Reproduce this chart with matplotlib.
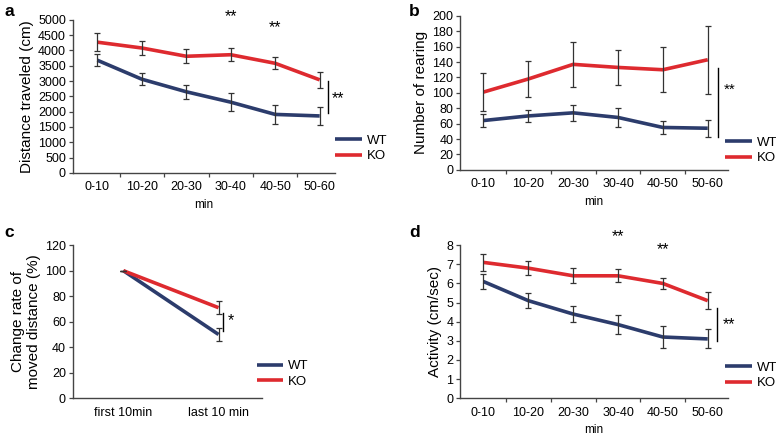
import numpy as np
import matplotlib
matplotlib.use("Agg")
import matplotlib.pyplot as plt

plt.rcParams['font.family'] = ['Liberation Sans', 'DejaVu Sans']

WT_COL = '#2c3c6c'
KO_COL = '#de2a2f'

# panel a - distance traveled
bins = ['0-10', '10-20', '20-30', '30-40', '40-50', '50-60']
dist_wt = [3680, 3060, 2650, 2310, 1910, 1860]
dist_wt_err = [200, 200, 230, 290, 300, 290]
dist_ko = [4270, 4080, 3810, 3860, 3580, 3040]
dist_ko_err = [300, 230, 230, 210, 200, 260]

# panel b - rearing
rear_wt = [64, 70, 74, 68, 55, 54]
rear_wt_err = [8, 8, 10, 12, 9, 11]
rear_ko = [101, 118, 137, 133, 130, 143]
rear_ko_err = [25, 24, 29, 23, 29, 44]

# panel c - change rate
periods = ['first 10min', 'last 10 min']
rate_wt = [100, 50]
rate_wt_err = [0, 5]
rate_ko = [100, 71]
rate_ko_err = [0, 5]

# panel d - activity
act_wt = [6.1, 5.1, 4.4, 3.85, 3.2, 3.1]
act_wt_err = [0.4, 0.4, 0.4, 0.5, 0.55, 0.5]
act_ko = [7.1, 6.8, 6.4, 6.4, 6.0, 5.1]
act_ko_err = [0.45, 0.35, 0.4, 0.35, 0.3, 0.45]

fig = plt.figure(figsize=(7.76, 4.41), dpi=100)


def panel(rect, labels, wt, wterr, ko, koerr, ylim, yticks, ylabel, xlabel, xlim, boundary_ticks=True):
    ax = fig.add_axes(rect)
    x = np.arange(len(labels))
    for y, e, c in ((wt, wterr, WT_COL), (ko, koerr, KO_COL)):
        ax.plot(x, y, color=c, lw=2.6, solid_capstyle='butt', zorder=2)
        ax.errorbar(x, y, yerr=e, fmt='none', ecolor='#333333', elinewidth=0.9,
                    capsize=2.2, capthick=0.9, zorder=3)
    ax.set_xlim(*xlim)
    ax.set_ylim(*ylim)
    ax.set_yticks(yticks)
    for s in ('top', 'right'):
        ax.spines[s].set_visible(False)
    for s in ('left', 'bottom'):
        ax.spines[s].set_color('#444444')
        ax.spines[s].set_linewidth(1.0)
    ax.tick_params(axis='y', labelsize=9, length=3, width=0.9, color='#444444', pad=2)
    ax.set_xticks(x)
    ax.set_xticklabels(labels)
    ax.tick_params(axis='x', which='major', length=0, labelsize=9, pad=6)
    if boundary_ticks:
        ax.set_xticks(x[:-1] + 0.5, minor=True)
        ax.tick_params(axis='x', which='minor', length=3, width=0.9, color='#444444')
    ax.set_ylabel(ylabel, fontsize=11, labelpad=3)
    if xlabel:
        ax.set_xlabel(xlabel, fontsize=8.5, labelpad=4)
    return ax


def add_legend(ax, anchor):
    ax.legend(['WT', 'KO'], loc='upper left', bbox_to_anchor=anchor, frameon=False,
              fontsize=9.5, handlelength=2.0, handletextpad=0.4, labelspacing=0.25,
              borderpad=0, borderaxespad=0)


# a
ax_a = panel([0.094, 0.608, 0.338, 0.347], bins, dist_wt, dist_wt_err, dist_ko, dist_ko_err,
             (0, 5000), np.arange(0, 5001, 500), 'Distance traveled (cm)', 'min', (-0.55, 5.35))
add_legend(ax_a, (1.0, 0.25))
ax_a.text(3, 5100, '**', ha='center', va='center', fontsize=11.5, clip_on=False)
ax_a.text(4, 4750, '**', ha='center', va='center', fontsize=11.5)
ax_a.plot([5.18, 5.18], [1950, 3000], color='k', lw=1.0, clip_on=False)
ax_a.text(5.28, 2420, '**', ha='left', va='center', fontsize=11.5, clip_on=False)

# b
ax_b = panel([0.593, 0.615, 0.345, 0.349], bins, rear_wt, rear_wt_err, rear_ko, rear_ko_err,
             (0, 200), np.arange(0, 201, 20), 'Number of rearing', 'min', (-0.52, 5.45))
add_legend(ax_b, (0.99, 0.215))
ax_b.plot([5.22, 5.22], [43, 132], color='k', lw=1.0)
ax_b.text(5.35, 104, '**', ha='left', va='center', fontsize=11, clip_on=False)

# c
ax_c = panel([0.094, 0.097, 0.244, 0.347], periods, rate_wt, rate_wt_err, rate_ko, rate_ko_err,
             (0, 120), np.arange(0, 121, 20), 'Change rate of\nmoved distance (%)', None,
             (-0.53, 1.46), boundary_ticks=False)
add_legend(ax_c, (0.97, 0.25))
ax_c.plot([1.05, 1.05], [53, 67], color='k', lw=1.0)
ax_c.text(1.1, 61, '*', ha='left', va='center', fontsize=11.5)

# d
ax_d = panel([0.593, 0.097, 0.345, 0.347], bins, act_wt, act_wt_err, act_ko, act_ko_err,
             (0, 8), np.arange(0, 9, 1), 'Activity (cm/sec)', 'min', (-0.52, 5.45))
add_legend(ax_d, (0.99, 0.24))
ax_d.text(3, 8.45, '**', ha='center', va='center', fontsize=11.5, clip_on=False)
ax_d.text(4, 7.75, '**', ha='center', va='center', fontsize=11.5)
ax_d.plot([5.2, 5.2], [3.0, 4.7], color='k', lw=1.0)
ax_d.text(5.33, 3.85, '**', ha='left', va='center', fontsize=11.5, clip_on=False)

# panel letters
for lbl, (px, py) in zip('abcd', [(0.006, 0.99), (0.527, 0.99), (0.006, 0.49), (0.527, 0.49)]):
    fig.text(px, py, lbl, fontsize=12.5, fontweight='bold', ha='left', va='top')

fig.savefig('out.png', dpi=100)
